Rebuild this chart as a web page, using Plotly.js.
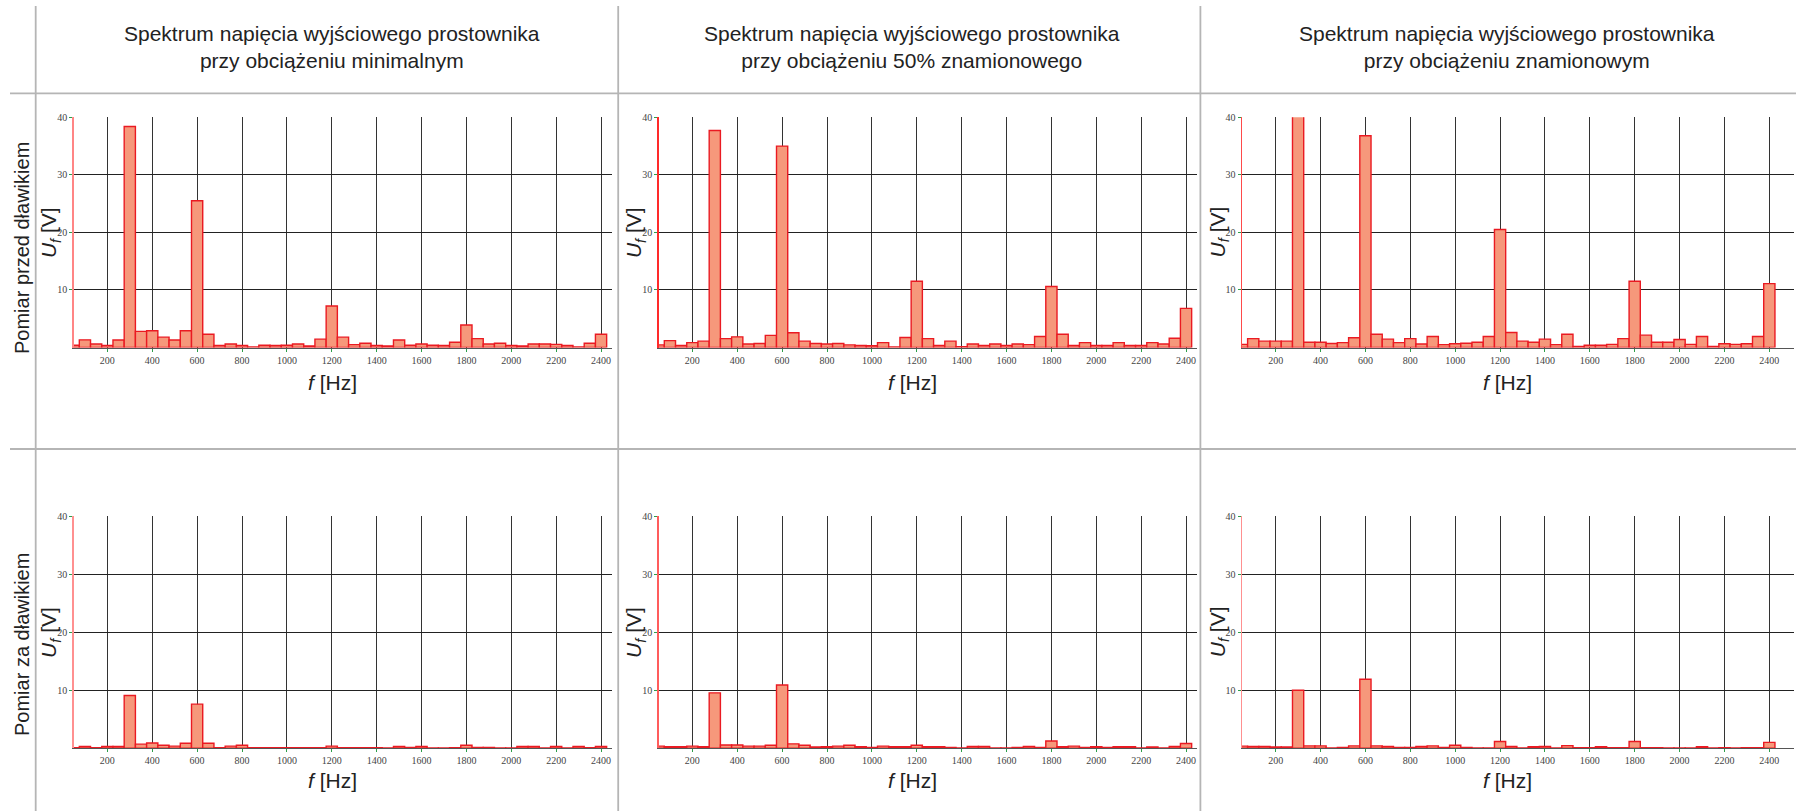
<!DOCTYPE html>
<html><head><meta charset="utf-8">
<script src="https://cdn.plot.ly/plotly-3.0.1.min.js"></script>
<style>html,body{margin:0;padding:0;background:#fff}#chart{width:1796px;height:811px}</style>
</head><body><div id="chart"></div><script>
const freqHz = [50,100,150,200,250,300,350,400,450,500,550,600,650,700,750,800,850,900,950,1000,1050,1100,1150,1200,1250,1300,1350,1400,1450,1500,1550,1600,1650,1700,1750,1800,1850,1900,1950,2000,2050,2100,2150,2200,2250,2300,2350,2400];

const beforeMinLoad = [0.4,1.33,0.6,0.35,1.3,38.4,2.8,2.9,1.8,1.3,2.9,25.5,2.3,0.35,0.6,0.35,0.1,0.4,0.35,0.4,0.6,0.25,1.45,7.2,1.8,0.5,0.75,0.35,0.25,1.3,0.4,0.6,0.4,0.35,0.9,3.9,1.55,0.6,0.75,0.35,0.25,0.6,0.6,0.55,0.35,0.1,0.75,2.3];
const beforeHalfLoad = [0.45,1.2,0.35,0.85,1.1,37.7,1.55,1.85,0.6,0.7,2.1,35.0,2.55,1.1,0.7,0.6,0.7,0.45,0.35,0.3,0.85,0.1,1.75,11.5,1.55,0.35,1.1,0.15,0.6,0.35,0.6,0.35,0.6,0.5,1.9,10.6,2.3,0.35,0.85,0.35,0.35,0.85,0.35,0.35,0.85,0.6,1.6,6.8];
const beforeFullLoad = [0.55,1.55,1.1,1.1,1.1,41.0,0.9,0.9,0.7,0.85,1.7,36.8,2.3,1.45,0.85,1.55,0.6,1.9,0.5,0.65,0.75,0.9,1.9,20.5,2.6,1.1,0.9,1.45,0.5,2.3,0.2,0.4,0.4,0.55,1.55,11.5,2.15,0.9,0.9,1.4,0.55,1.9,0.2,0.65,0.55,0.65,1.9,11.1];
const afterMinLoad = [0.1,0.3,0.1,0.3,0.3,9.1,0.7,0.9,0.5,0.35,0.85,7.6,0.85,0.1,0.35,0.5,0.1,0.1,0.1,0.1,0.1,0.1,0.1,0.35,0.1,0.1,0.1,0.1,0.05,0.3,0.15,0.3,0.05,0.05,0.1,0.5,0.15,0.15,0.05,0.05,0.3,0.3,0.05,0.3,0.05,0.3,0.1,0.3];
const afterHalfLoad = [0.35,0.25,0.25,0.35,0.25,9.55,0.55,0.55,0.35,0.35,0.5,10.9,0.75,0.5,0.2,0.25,0.35,0.5,0.25,0.15,0.35,0.25,0.25,0.5,0.25,0.25,0.15,0.05,0.3,0.3,0.05,0.05,0.15,0.3,0.15,1.25,0.25,0.35,0.15,0.25,0.15,0.25,0.25,0.05,0.2,0.05,0.3,0.8];
const afterFullLoad = [0.35,0.3,0.3,0.2,0.2,10.0,0.4,0.4,0.05,0.15,0.4,11.9,0.4,0.3,0.15,0.15,0.3,0.4,0.15,0.5,0.15,0.05,0.05,1.15,0.3,0.05,0.25,0.3,0.05,0.45,0.1,0.1,0.25,0.1,0.1,1.15,0.1,0.1,0.05,0.05,0.05,0.25,0.05,0.1,0.05,0.1,0.1,1.0];

const panelSeries = [beforeMinLoad, beforeHalfLoad, beforeFullLoad, afterMinLoad, afterHalfLoad, afterFullLoad];

const columnTitles = [
  'Spektrum napięcia wyjściowego prostownika<br>przy obciążeniu minimalnym',
  'Spektrum napięcia wyjściowego prostownika<br>przy obciążeniu 50% znamionowego',
  'Spektrum napięcia wyjściowego prostownika<br>przy obciążeniu znamionowym'
];
const rowTitles = ['Pomiar przed dławikiem', 'Pomiar za dławikiem'];
const xAxisTitle = '<i>f</i> [Hz]';
const yAxisTitle = '<i>U</i><sub><i>f</i></sub> [V]';
const xTickVals = [200,400,600,800,1000,1200,1400,1600,1800,2000,2200,2400];
const yTickVals = [10,20,30,40];

const W = 1796, H = 811;
const fx = p => p / W;
const fy = p => 1 - p / H;

// pixel geometry
const colPlot = [[73.7, 612.3], [658.7, 1197.3], [1242, 1794]];
const rowPlot = [[117.3, 347.5], [516.3, 748.2]];
const pxPerHz = 0.2244;
const colCenter = [332, 912, 1507];
const rowLabelY = [248, 645];
const leftLineColors = ['#ff8585', '#ff2a2a', '#ff4a4a', '#ff9090', '#ff5c5c', '#ff9090'];

const data = [];
const layout = {
  width: W, height: H,
  margin: {l: 0, r: 0, t: 0, b: 0},
  paper_bgcolor: '#fff', plot_bgcolor: '#fff',
  showlegend: false,
  bargap: 0,
  font: {family: 'Liberation Sans, Arial, sans-serif', color: '#222'},
  annotations: [],
  shapes: []
};

for (let i = 0; i < 6; i++) {
  const r = Math.floor(i / 3), c = i % 3;
  const sfx = i === 0 ? '' : String(i + 1);
  const xa = 'x' + sfx, ya = 'y' + sfx;
  data.push({
    type: 'bar', x: freqHz, y: panelSeries[i], xaxis: xa, yaxis: ya,
    width: 50,
    marker: {color: '#f6987b', line: {color: '#ea1a22', width: 1.4}},
    hoverinfo: 'x+y'
  });
  const [x0, x1] = colPlot[c];
  const [y0, y1] = rowPlot[r];
  const xmax = 50 + (x1 - x0) / pxPerHz;
  layout['xaxis' + sfx] = {
    domain: [fx(x0), fx(x1)], anchor: ya,
    range: [50, xmax],
    tickvals: xTickVals, ticktext: xTickVals.map(String),
    showgrid: true, gridcolor: '#333', gridwidth: 1,
    showline: true, linecolor: '#555', linewidth: 1,
    zeroline: false,
    ticks: 'outside', ticklen: 3, tickcolor: '#2e9e4a', tickwidth: 1,
    tickfont: {family: 'Liberation Serif, Times New Roman, serif', size: 10, color: '#444'},
    fixedrange: true
  };
  layout['yaxis' + sfx] = {
    domain: [fy(y1), fy(y0)], anchor: xa,
    range: [0, 40],
    tickvals: yTickVals, ticktext: yTickVals.map(String),
    showgrid: true, gridcolor: '#222', gridwidth: 1,
    showline: true, linecolor: leftLineColors[i], linewidth: 1.5,
    zeroline: false,
    ticks: 'outside', ticklen: 3, tickcolor: '#2e9e4a', tickwidth: 1,
    tickfont: {family: 'Liberation Serif, Times New Roman, serif', size: 10, color: '#444'},
    fixedrange: true
  };
  // axis titles
  layout.annotations.push({
    xref: 'paper', yref: 'paper', x: fx(colCenter[c]), y: fy(r === 0 ? 382 : 780),
    text: xAxisTitle, showarrow: false, xanchor: 'center', yanchor: 'middle',
    font: {size: 21, color: '#222'}
  });
  layout.annotations.push({
    xref: 'paper', yref: 'paper', x: fx(x0 - 23), y: fy((y0 + y1) / 2),
    text: yAxisTitle, showarrow: false, textangle: -90, xanchor: 'center', yanchor: 'middle',
    font: {size: 21, color: '#222'}
  });
}

for (let c = 0; c < 3; c++) {
  layout.annotations.push({
    xref: 'paper', yref: 'paper', x: fx(colCenter[c]), y: fy(47),
    text: columnTitles[c], showarrow: false, xanchor: 'center', yanchor: 'middle',
    font: {size: 21, color: '#222'}
  });
}
for (let r = 0; r < 2; r++) {
  layout.annotations.push({
    xref: 'paper', yref: 'paper', x: fx(22), y: fy(rowLabelY[r]),
    text: rowTitles[r], showarrow: false, textangle: -90, xanchor: 'center', yanchor: 'middle',
    font: {size: 20, color: '#222'}
  });
}

// table borders
const borderStyle = {color: '#b5b5b5', width: 1.8};
[35.7, 618.2, 1200.4].forEach(xp => {
  layout.shapes.push({type: 'line', xref: 'paper', yref: 'paper', x0: fx(xp), x1: fx(xp), y0: fy(6), y1: 0, line: borderStyle, layer: 'above'});
});
[93.3, 449].forEach(yp => {
  layout.shapes.push({type: 'line', xref: 'paper', yref: 'paper', x0: fx(10), x1: 1, y0: fy(yp), y1: fy(yp), line: borderStyle, layer: 'above'});
});

Plotly.newPlot('chart', data, layout, {displayModeBar: false, staticPlot: true}).then(gd => {
  // drop Plotly's empty axis-title placeholders (titles are drawn as annotations)
  gd.querySelectorAll('text').forEach(t => { if (!t.textContent.trim()) t.remove(); });
});
</script></body></html>
